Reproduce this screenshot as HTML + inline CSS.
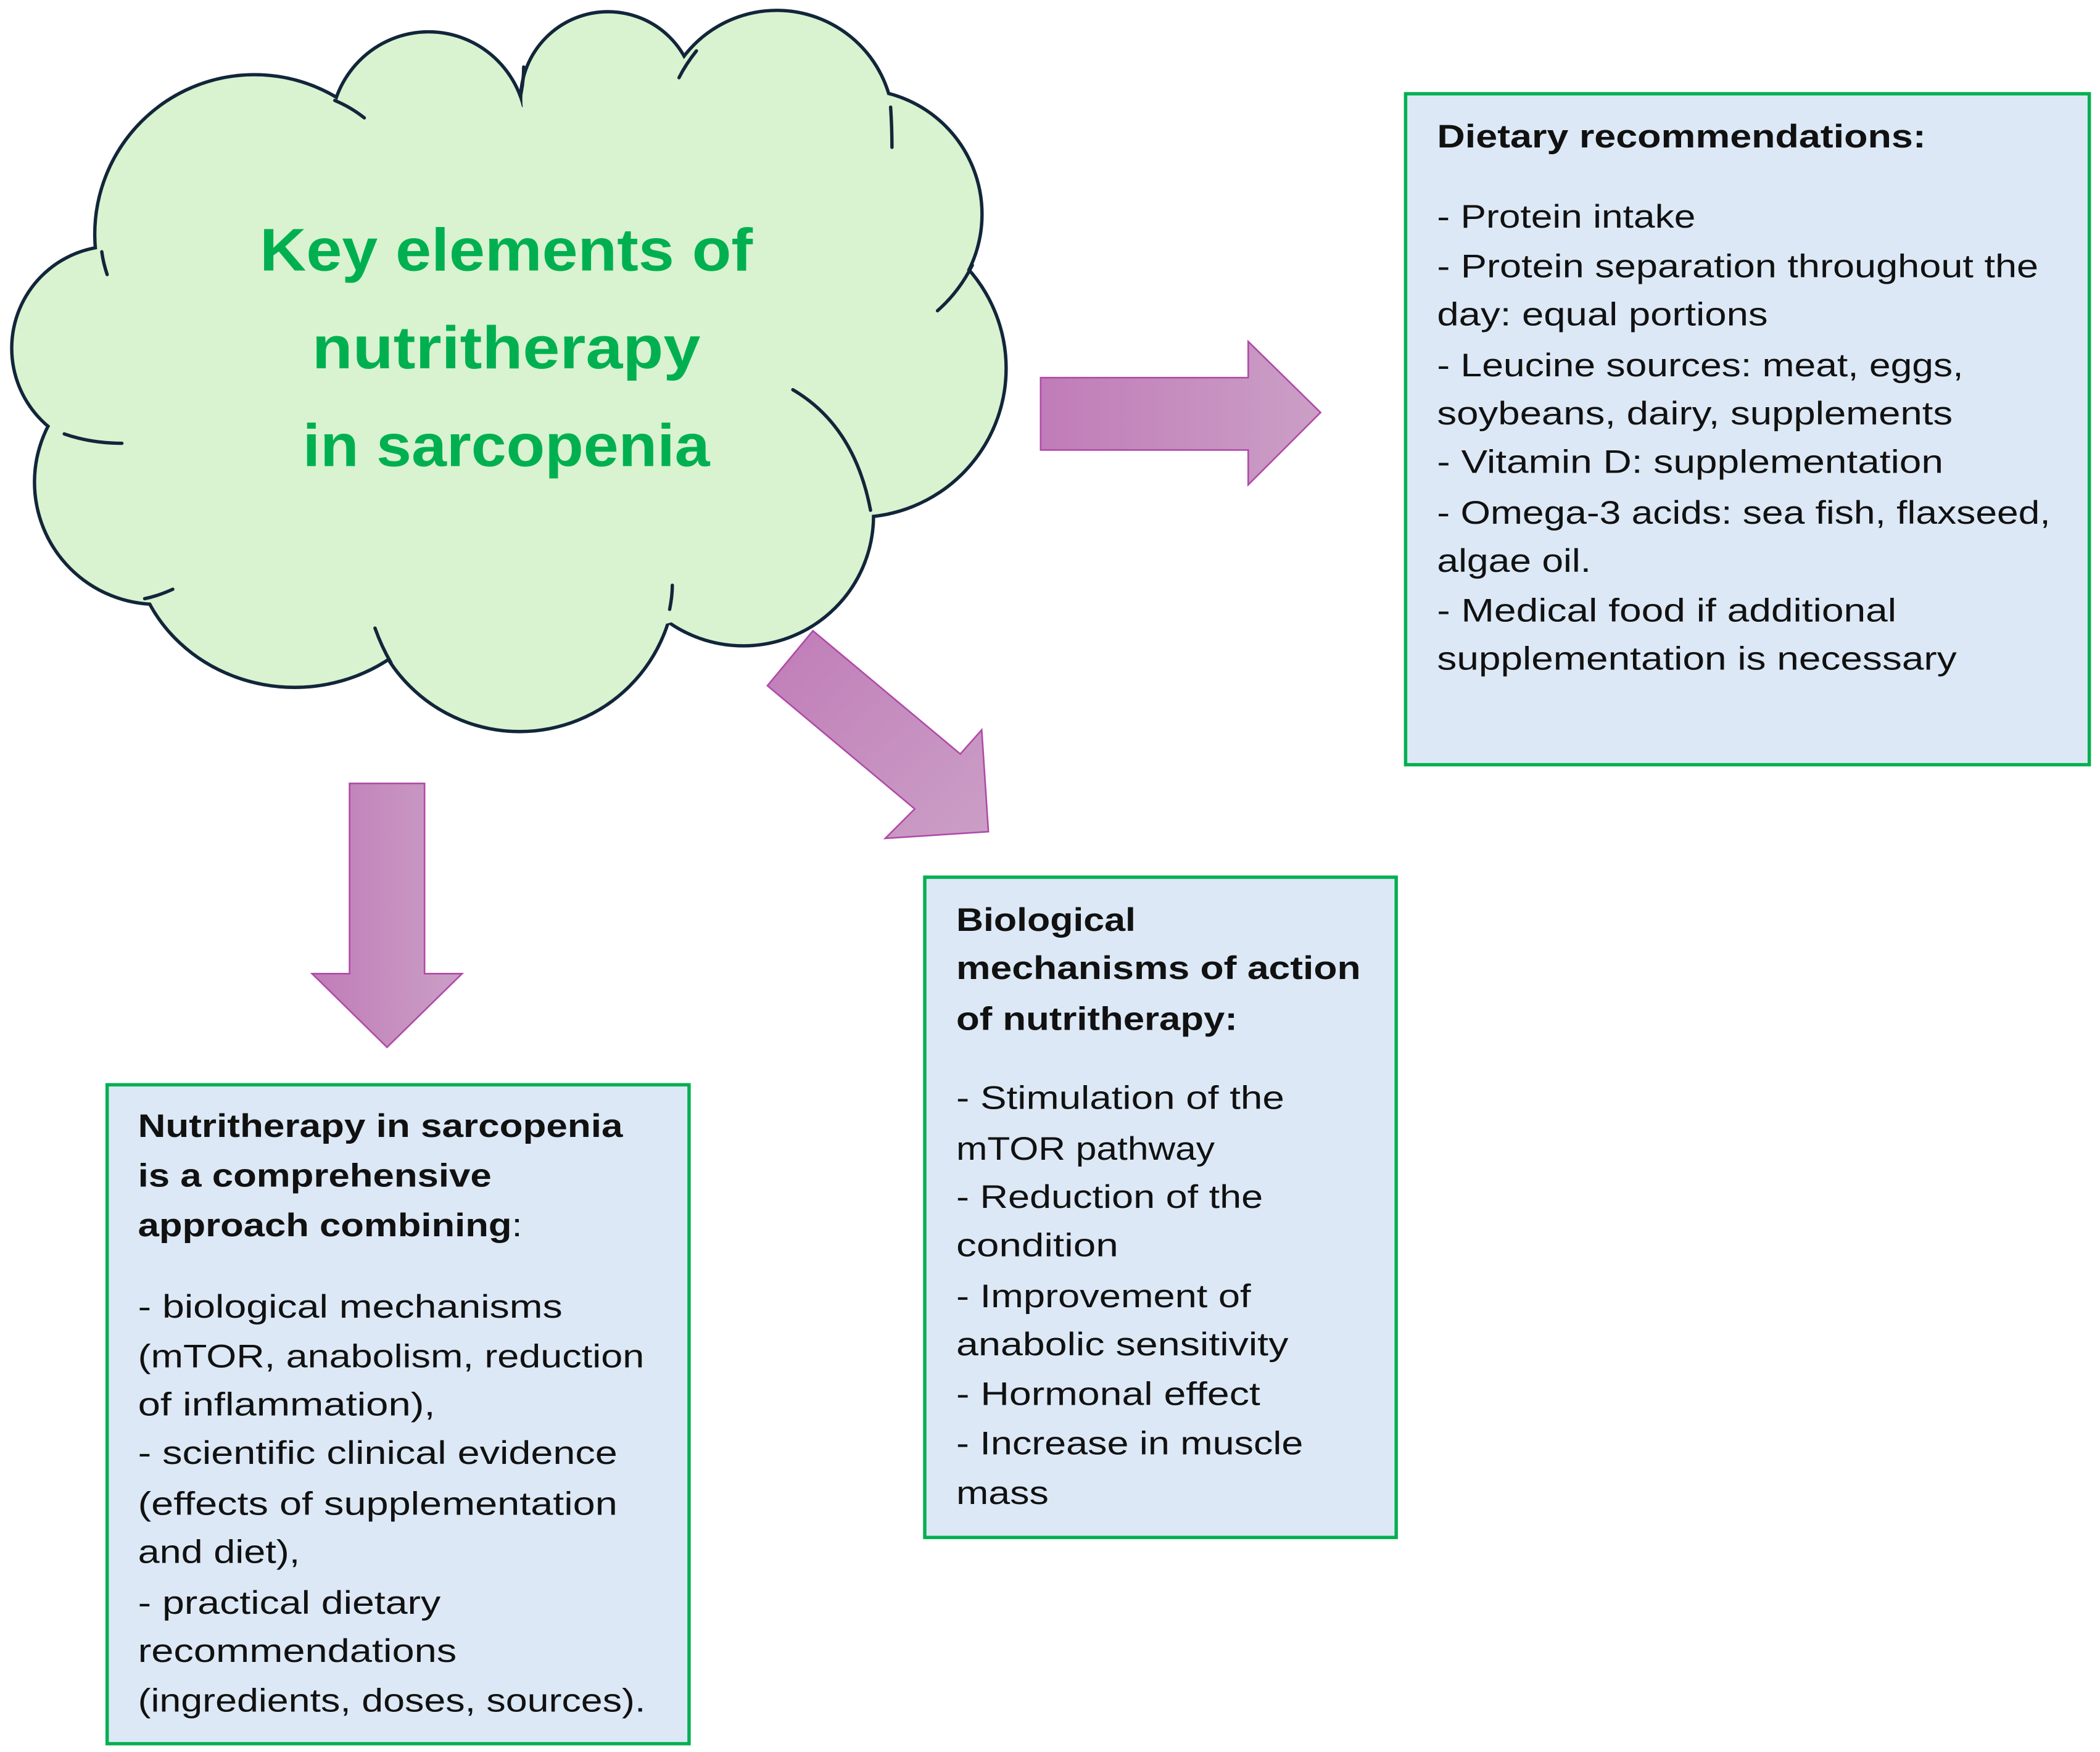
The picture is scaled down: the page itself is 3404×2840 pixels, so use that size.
<!DOCTYPE html>
<html><head><meta charset="utf-8"><style>
html,body{margin:0;padding:0;background:#fff;}
svg{display:block;}
text{font-family:"Liberation Sans",sans-serif;fill:#111;}
</style></head><body>
<svg width="3404" height="2840" viewBox="0 0 1568 1308.2" preserveAspectRatio="none" xmlns="http://www.w3.org/2000/svg">
<defs>
<linearGradient id="pg" x1="0" y1="0" x2="1" y2="0">
<stop offset="0" stop-color="#c07cb8"/><stop offset="1" stop-color="#cb9fc6"/>
</linearGradient>
<linearGradient id="pg2" x1="0" y1="0" x2="1" y2="1">
<stop offset="0" stop-color="#c07cb8"/><stop offset="1" stop-color="#cb9fc6"/>
</linearGradient>
</defs>
<rect width="1568" height="1308.2" fill="#fff"/>
<!-- cloud strokes -->
<g fill="#d9f2d0" stroke="#12263a" stroke-width="5">
<circle cx="190" cy="175" r="118"/>
<ellipse cx="320" cy="98" rx="72" ry="73"/>
<circle cx="454" cy="74" r="64"/>
<circle cx="580" cy="95" r="86"/>
<circle cx="640" cy="160" r="92"/>
<circle cx="640" cy="275" r="110"/>
<circle cx="555" cy="385" r="96"/>
<circle cx="388" cy="430" r="115"/>
<ellipse cx="220" cy="400" rx="120" ry="112"/>
<circle cx="117" cy="360" r="90"/>
<circle cx="85" cy="260" r="75"/>
</g>
<g fill="#d9f2d0">
<circle cx="190" cy="175" r="118"/>
<ellipse cx="320" cy="98" rx="72" ry="73"/>
<circle cx="454" cy="74" r="64"/>
<circle cx="580" cy="95" r="86"/>
<circle cx="640" cy="160" r="92"/>
<circle cx="640" cy="275" r="110"/>
<circle cx="555" cy="385" r="96"/>
<circle cx="388" cy="430" r="115"/>
<ellipse cx="220" cy="400" rx="120" ry="112"/>
<circle cx="117" cy="360" r="90"/>
<circle cx="85" cy="260" r="75"/>
<ellipse cx="390" cy="280" rx="290" ry="200"/>
</g>
<g fill="none" stroke="#12263a" stroke-width="2.5" stroke-linecap="round">
<path d="M250,75 Q262,80 272,88"/>
<path d="M391,50 Q391,60 389,70"/>
<path d="M520,38 Q512,48 507,58"/>
<path d="M665,80 Q666,95 666,110"/>
<path d="M726,198 Q716,218 700,232"/>
<path d="M592,291 Q638,318 650,381"/>
<path d="M502,437 Q502,445 500,455"/>
<path d="M280,469 Q285,483 292,495"/>
<path d="M129,440 Q118,445 108,447"/>
<path d="M48,324 Q68,331 91,331"/>
<path d="M76,188 Q77,196 80,205"/>
</g>
<g font-weight="bold" font-size="45" text-anchor="middle" style="fill:#00b050">
<text x="378" y="202" textLength="368" lengthAdjust="spacingAndGlyphs" style="fill:#00b050">Key elements of</text>
<text x="378" y="275" textLength="290" lengthAdjust="spacingAndGlyphs" style="fill:#00b050">nutritherapy</text>
<text x="378" y="348" textLength="304" lengthAdjust="spacingAndGlyphs" style="fill:#00b050">in sarcopenia</text>
</g>
<!-- arrows -->
<polygon points="777,282 932,282 932,255 986,308 932,362 932,336 777,336" fill="url(#pg)" stroke="#b04aa8" stroke-width="1.2"/>
<polygon points="261,585 317,585 317,727 345,727 289,782 233,727 261,727" fill="url(#pg)" stroke="#b04aa8" stroke-width="1.2"/>
<polygon points="607,471 717,563 733,545 738,621 661,626 683,604 573,512" fill="url(#pg2)" stroke="#b04aa8" stroke-width="1.2"/>
<!-- boxes -->
<g fill="#dce8f5" stroke="#00b050" stroke-width="2.5">
<rect x="1049.5" y="70" width="510.5" height="501"/>
<rect x="690.5" y="655" width="352" height="493"/>
<rect x="80" y="810" width="434.5" height="492"/>
</g>
<g font-size="24.5">
<text x="1073" y="110" font-weight="bold" textLength="365" lengthAdjust="spacingAndGlyphs">Dietary recommendations:</text>
<text x="1073" y="170" textLength="193" lengthAdjust="spacingAndGlyphs">- Protein intake</text>
<text x="1073" y="207" textLength="449" lengthAdjust="spacingAndGlyphs">- Protein separation throughout the</text>
<text x="1073" y="243" textLength="247" lengthAdjust="spacingAndGlyphs">day: equal portions</text>
<text x="1073" y="281" textLength="393" lengthAdjust="spacingAndGlyphs">- Leucine sources: meat, eggs,</text>
<text x="1073" y="317" textLength="385" lengthAdjust="spacingAndGlyphs">soybeans, dairy, supplements</text>
<text x="1073" y="353" textLength="378" lengthAdjust="spacingAndGlyphs">- Vitamin D: supplementation</text>
<text x="1073" y="391" textLength="458" lengthAdjust="spacingAndGlyphs">- Omega-3 acids: sea fish, flaxseed,</text>
<text x="1073" y="427" textLength="115" lengthAdjust="spacingAndGlyphs">algae oil.</text>
<text x="1073" y="464" textLength="343" lengthAdjust="spacingAndGlyphs">- Medical food if additional</text>
<text x="1073" y="500" textLength="388" lengthAdjust="spacingAndGlyphs">supplementation is necessary</text>

<text x="714" y="695" font-weight="bold" textLength="134" lengthAdjust="spacingAndGlyphs">Biological</text>
<text x="714" y="731" font-weight="bold" textLength="302" lengthAdjust="spacingAndGlyphs">mechanisms of action</text>
<text x="714" y="769" font-weight="bold" textLength="210" lengthAdjust="spacingAndGlyphs">of nutritherapy:</text>
<text x="714" y="828" textLength="245" lengthAdjust="spacingAndGlyphs">- Stimulation of the</text>
<text x="714" y="866" textLength="193" lengthAdjust="spacingAndGlyphs">mTOR pathway</text>
<text x="714" y="902" textLength="229" lengthAdjust="spacingAndGlyphs">- Reduction of the</text>
<text x="714" y="938" textLength="121" lengthAdjust="spacingAndGlyphs">condition</text>
<text x="714" y="976" textLength="220" lengthAdjust="spacingAndGlyphs">- Improvement of</text>
<text x="714" y="1012" textLength="248" lengthAdjust="spacingAndGlyphs">anabolic sensitivity</text>
<text x="714" y="1049" textLength="227" lengthAdjust="spacingAndGlyphs">- Hormonal effect</text>
<text x="714" y="1086" textLength="259" lengthAdjust="spacingAndGlyphs">- Increase in muscle</text>
<text x="714" y="1123" textLength="69" lengthAdjust="spacingAndGlyphs">mass</text>

<text x="103" y="849" font-weight="bold" textLength="362" lengthAdjust="spacingAndGlyphs">Nutritherapy in sarcopenia</text>
<text x="103" y="886" font-weight="bold" textLength="264" lengthAdjust="spacingAndGlyphs">is a comprehensive</text>
<text x="103" y="923" textLength="287" lengthAdjust="spacingAndGlyphs"><tspan font-weight="bold">approach combining</tspan>:</text>
<text x="103" y="984" textLength="317" lengthAdjust="spacingAndGlyphs">- biological mechanisms</text>
<text x="103" y="1021" textLength="378" lengthAdjust="spacingAndGlyphs">(mTOR, anabolism, reduction</text>
<text x="103" y="1057" textLength="222" lengthAdjust="spacingAndGlyphs">of inflammation),</text>
<text x="103" y="1093" textLength="358" lengthAdjust="spacingAndGlyphs">- scientific clinical evidence</text>
<text x="103" y="1131" textLength="358" lengthAdjust="spacingAndGlyphs">(effects of supplementation</text>
<text x="103" y="1167" textLength="121" lengthAdjust="spacingAndGlyphs">and diet),</text>
<text x="103" y="1205" textLength="226" lengthAdjust="spacingAndGlyphs">- practical dietary</text>
<text x="103" y="1241" textLength="238" lengthAdjust="spacingAndGlyphs">recommendations</text>
<text x="103" y="1278" textLength="379" lengthAdjust="spacingAndGlyphs">(ingredients, doses, sources).</text>
</g>
</svg>
</body></html>
